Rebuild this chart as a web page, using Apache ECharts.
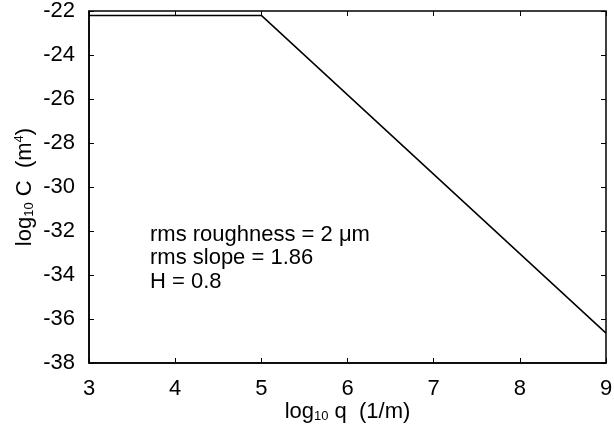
<!DOCTYPE html>
<html>
<head>
<meta charset="utf-8">
<script src="https://cdn.jsdelivr.net/npm/echarts@6/dist/echarts.min.js"></script>
<style>
  html, body { margin: 0; padding: 0; background: #fff; }
  #chart { width: 614px; height: 424px; }
</style>
</head>
<body>
<div id="chart"></div>
<script>
// log10 q (1/m) and log10 C (m^4)
var logQ = [3, 5, 9];
var logC = [-22.2, -22.2, -36.64];
var xTicks = [3, 4, 5, 6, 7, 8, 9];
var yTicks = [-38, -36, -34, -32, -30, -28, -26, -24, -22];
var notes = ['rms roughness = 2 \u03bcm', 'rms slope = 1.86', 'H = 0.8'];

var font = 'Liberation Sans, Arial, sans-serif';
var tick = { inside: true, length: 5, lineStyle: { color: '#000', width: 1 } };

var chart = echarts.init(document.getElementById('chart'));
var option = {
    animation: false,
    backgroundColor: '#fff',
    grid: {
        left: 89, right: 8, top: 11, bottom: 61,
        containLabel: false,
        outerBoundsMode: 'none',
        show: true,
        borderColor: '#000',
        borderWidth: 1.5
    },
    xAxis: [{
        type: 'value',
        min: xTicks[0], max: xTicks[xTicks.length - 1], interval: 1,
        axisLine: { lineStyle: { color: '#000', width: 1.5 } },
        axisTick: tick,
        splitLine: { show: false },
        axisLabel: { color: '#000', fontSize: 22, fontFamily: font, margin: 15 },
        name: '{a|log}{s|10}{a| q  (1/m)}',
        nameLocation: 'middle',
        nameGap: 38,
        nameMoveOverlap: false,
        nameTextStyle: {
            color: '#000', fontFamily: font,
            rich: {
                a: { fontSize: 22, fontFamily: font, color: '#000' },
                s: { fontSize: 13, fontFamily: font, color: '#000', padding: [9, 0, 0, 0] }
            }
        }
    }, {
        type: 'value', position: 'top',
        min: xTicks[0], max: xTicks[xTicks.length - 1], interval: 1,
        axisLine: { show: false },
        axisTick: tick,
        axisLabel: { show: false },
        splitLine: { show: false }
    }],
    yAxis: [{
        type: 'value',
        min: yTicks[0], max: yTicks[yTicks.length - 1], interval: 2,
        axisLine: { show: true, lineStyle: { color: '#000', width: 1.5 } },
        axisTick: tick,
        splitLine: { show: false },
        axisLabel: { color: '#000', fontSize: 22, fontFamily: font, margin: 14 },
        name: '{a|log}{s|10}{a| C  (m}{p|4}{a|)}',
        nameLocation: 'middle',
        nameGap: 53,
        nameRotate: 90,
        nameMoveOverlap: false,
        nameTextStyle: {
            color: '#000', fontFamily: font,
            rich: {
                a: { fontSize: 22, fontFamily: font, color: '#000' },
                s: { fontSize: 13, fontFamily: font, color: '#000', padding: [9, 0, 0, 0] },
                p: { fontSize: 13, fontFamily: font, color: '#000', padding: [0, 0, 10, 0] }
            }
        }
    }, {
        type: 'value', position: 'right',
        min: yTicks[0], max: yTicks[yTicks.length - 1], interval: 2,
        axisLine: { show: false },
        axisTick: tick,
        axisLabel: { show: false },
        splitLine: { show: false }
    }],
    series: [{
        type: 'line',
        data: logQ.map(function (q, i) { return [q, logC[i]]; }),
        showSymbol: false,
        lineStyle: { color: '#000', width: 1.5 }
    }],
    graphic: [{
        type: 'text',
        left: 150,
        top: 223,
        style: {
            text: notes.join('\n'),
            fill: '#000',
            font: '22px ' + font,
            lineHeight: 23.5
        }
    }]
};
chart.setOption(option);
</script>
</body>
</html>
